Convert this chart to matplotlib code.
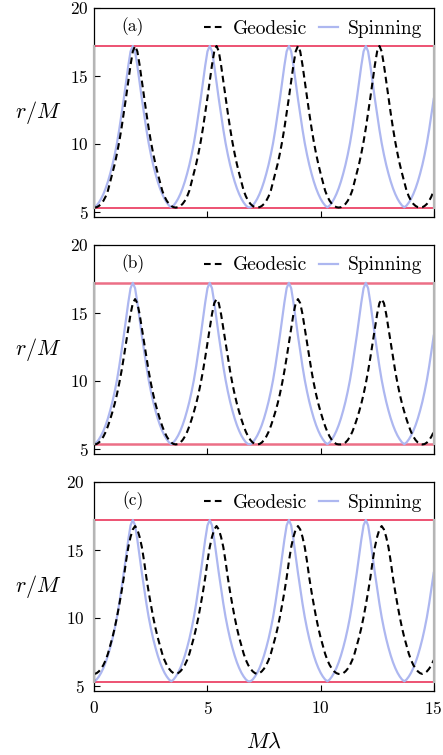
import numpy as np
import matplotlib
matplotlib.use("Agg")
import matplotlib.pyplot as plt

plt.rcParams['font.family'] = ['cmr10', 'DejaVu Serif']
plt.rcParams['mathtext.fontset'] = 'cm'
plt.rcParams['axes.formatter.use_mathtext'] = True

# M*lambda sampled every 0.1
lam = np.linspace(0, 15, 151)

# r/M
r_spin = [5.32, 5.45, 5.67, 5.95, 6.3, 6.72, 7.22, 7.8, 8.45, 9.2, 10.05, 11.05, 12.15, 13.3, 14.5, 15.75, 16.8, 17.2,
          16.8, 15.75, 14.5, 13.3, 12.15, 11.05, 10.05, 9.2, 8.45, 7.8, 7.22, 6.72, 6.3, 5.95, 5.67, 5.45, 5.32,
          5.45, 5.67, 5.95, 6.3, 6.72, 7.22, 7.8, 8.45, 9.2, 10.05, 11.05, 12.15, 13.3, 14.5, 15.75, 16.8, 17.2,
          16.8, 15.75, 14.5, 13.3, 12.15, 11.05, 10.05, 9.2, 8.45, 7.8, 7.22, 6.72, 6.3, 5.95, 5.67, 5.45, 5.32,
          5.32, 5.45, 5.67, 5.95, 6.3, 6.72, 7.22, 7.8, 8.45, 9.2, 10.05, 11.05, 12.15, 13.3, 14.5, 15.75, 16.8, 17.2,
          16.8, 15.75, 14.5, 13.3, 12.15, 11.05, 10.05, 9.2, 8.45, 7.8, 7.22, 6.72, 6.3, 5.95, 5.67, 5.45, 5.32,
          5.45, 5.67, 5.95, 6.3, 6.72, 7.22, 7.8, 8.45, 9.2, 10.05, 11.05, 12.15, 13.3, 14.5, 15.75, 16.8, 17.2,
          16.8, 15.75, 14.5, 13.3, 12.15, 11.05, 10.05, 9.2, 8.45, 7.8, 7.22, 6.72, 6.3, 5.95, 5.67, 5.45, 5.32,
          5.45, 5.67, 5.95, 6.3, 6.72, 7.22, 7.8, 8.45, 9.2, 10.05, 11.05, 12.15, 13.3]

r_geo_a = [5.3, 5.33, 5.42, 5.57, 5.8, 6.12, 6.55, 7.2, 7.82, 8.5, 9.28, 10.15, 11.15, 12.25, 13.4, 14.6, 15.8, 16.8, 17.2,
           16.8, 15.8, 14.6, 13.4, 12.25, 11.15, 10.15, 9.28, 8.5, 7.82, 7.2, 6.55, 6.12, 5.8, 5.57, 5.42, 5.33, 5.3,
           5.33, 5.42, 5.57, 5.8, 6.12, 6.55, 7.2, 7.82, 8.5, 9.28, 10.15, 11.15, 12.25, 13.4, 14.6, 15.8, 16.8, 17.2,
           16.8, 15.8, 14.6, 13.4, 12.25, 11.15, 10.15, 9.28, 8.5, 7.82, 7.2, 6.55, 6.12, 5.8, 5.57, 5.42, 5.33, 5.3,
           5.33, 5.42, 5.57, 5.8, 6.12, 6.55, 7.2, 7.82, 8.5, 9.28, 10.15, 11.15, 12.25, 13.4, 14.6, 15.8, 16.8, 17.2,
           16.8, 15.8, 14.6, 13.4, 12.25, 11.15, 10.15, 9.28, 8.5, 7.82, 7.2, 6.55, 6.12, 5.8, 5.57, 5.42, 5.33, 5.3,
           5.33, 5.42, 5.57, 5.8, 6.12, 6.55, 7.2, 7.82, 8.5, 9.28, 10.15, 11.15, 12.25, 13.4, 14.6, 15.8, 16.8, 17.2,
           16.8, 15.8, 14.6, 13.4, 12.25, 11.15, 10.15, 9.28, 8.5, 7.82, 7.2, 6.55, 6.12, 5.8, 5.57, 5.42, 5.33, 5.3,
           5.33, 5.42, 5.57, 5.8, 6.12, 6.55]

r_geo_b = [5.3, 5.33, 5.44, 5.62, 5.88, 6.22, 6.65, 7.15, 7.7, 8.3, 9.0, 9.8, 10.7, 11.7, 12.75, 13.85, 14.9, 15.7, 16.0,
           15.7, 14.9, 13.85, 12.75, 11.7, 10.7, 9.8, 9.0, 8.3, 7.7, 7.15, 6.65, 6.22, 5.88, 5.62, 5.44, 5.33, 5.3,
           5.33, 5.44, 5.62, 5.88, 6.22, 6.65, 7.15, 7.7, 8.3, 9.0, 9.8, 10.7, 11.7, 12.75, 13.85, 14.9, 15.7, 16.0,
           15.7, 14.9, 13.85, 12.75, 11.7, 10.7, 9.8, 9.0, 8.3, 7.7, 7.15, 6.65, 6.22, 5.88, 5.62, 5.44, 5.33, 5.3,
           5.33, 5.44, 5.62, 5.88, 6.22, 6.65, 7.15, 7.7, 8.3, 9.0, 9.8, 10.7, 11.7, 12.75, 13.85, 14.9, 15.7, 16.0,
           15.7, 14.9, 13.85, 12.75, 11.7, 10.7, 9.8, 9.0, 8.3, 7.7, 7.15, 6.65, 6.22, 5.88, 5.62, 5.44, 5.33, 5.3,
           5.3, 5.33, 5.44, 5.62, 5.88, 6.22, 6.65, 7.15, 7.7, 8.3, 9.0, 9.8, 10.7, 11.7, 12.75, 13.85, 14.9, 15.7, 16.0,
           15.7, 14.9, 13.85, 12.75, 11.7, 10.7, 9.8, 9.0, 8.3, 7.7, 7.15, 6.65, 6.22, 5.88, 5.62, 5.44, 5.33, 5.3,
           5.33, 5.44, 5.62, 5.88, 6.22]

r_geo_c = [5.86, 5.92, 6.05, 6.25, 6.52, 6.88, 7.35, 7.95, 8.55, 9.25, 10.05, 10.95, 11.9, 12.95, 14.15, 15.2, 15.95, 16.5, 16.75,
           16.5, 15.95, 15.2, 14.15, 12.95, 11.9, 10.95, 10.05, 9.25, 8.55, 7.95, 7.35, 6.88, 6.52, 6.25, 6.05, 5.92, 5.86,
           5.92, 6.05, 6.25, 6.52, 6.88, 7.35, 7.95, 8.55, 9.25, 10.05, 10.95, 11.9, 12.95, 14.15, 15.2, 15.95, 16.5, 16.75,
           16.5, 15.95, 15.2, 14.15, 12.95, 11.9, 10.95, 10.05, 9.25, 8.55, 7.95, 7.35, 6.88, 6.52, 6.25, 6.05, 5.92, 5.86,
           5.92, 6.05, 6.25, 6.52, 6.88, 7.35, 7.95, 8.55, 9.25, 10.05, 10.95, 11.9, 12.95, 14.15, 15.2, 15.95, 16.5, 16.75,
           16.5, 15.95, 15.2, 14.15, 12.95, 11.9, 10.95, 10.05, 9.25, 8.55, 7.95, 7.35, 6.88, 6.52, 6.25, 6.05, 5.92, 5.86,
           5.86, 5.92, 6.05, 6.25, 6.52, 6.88, 7.35, 7.95, 8.55, 9.25, 10.05, 10.95, 11.9, 12.95, 14.15, 15.2, 15.95, 16.5, 16.75,
           16.5, 15.95, 15.2, 14.15, 12.95, 11.9, 10.95, 10.05, 9.25, 8.55, 7.95, 7.35, 6.88, 6.52, 6.25, 6.05, 5.92, 5.86,
           5.92, 6.05, 6.25, 6.52, 6.88]

# turning points (periastron / apastron)
r_peri = 5.3
r_apo = 17.2

panel_labels = ["(a)", "(b)", "(c)"]
geodesics = [r_geo_a, r_geo_b, r_geo_c]

fig = plt.figure(figsize=(4.43, 7.55), dpi=100)
left, width, height = 0.213, 0.766, 0.2765
bottoms = [0.713, 0.3993, 0.0852]

axes = []
for i in range(3):
    ax = fig.add_axes([left, bottoms[i], width, height])
    axes.append(ax)

    if i == 1:
        red, red_lw = '#ec6f86', 1.8
    else:
        red, red_lw = '#e8234b', 1.1
    ax.axhline(r_apo, color=red, lw=red_lw, zorder=1)
    ax.axhline(r_peri, color=red, lw=red_lw, zorder=1)

    ax.plot(lam, r_spin, color='#adb7f0', lw=1.6, label='Spinning', zorder=2)
    ax.plot(lam, geodesics[i], color='black', lw=1.5, ls=(0, (3.2, 2.0)),
            label='Geodesic', zorder=3)

    for xe in (0, 15):
        ax.plot([xe, xe], [r_peri, r_apo], color='#b5b5b5', lw=1.6,
                clip_on=False, zorder=4)

    ax.set_xlim(0, 15)
    ax.set_ylim(4.63, 20)
    ax.set_yticks([5, 10, 15, 20])
    ax.set_xticks([0, 5, 10, 15])
    ax.tick_params(direction='in', length=4, width=0.8, labelsize=12.5,
                   top=False, right=False, pad=4)
    if i < 2:
        ax.tick_params(labelbottom=False)
    for s in ax.spines.values():
        s.set_linewidth(0.9)

    ax.text(1.7, 18.6, panel_labels[i], fontsize=12.5, ha='center', va='center')

    handles, labels = ax.get_legend_handles_labels()
    ax.legend(handles[::-1], labels[::-1], loc='upper right', ncol=2,
              frameon=False, fontsize=14, handlelength=1.0,
              handletextpad=0.5, columnspacing=0.6, borderaxespad=0.3,
              borderpad=0.3)

    ax.set_ylabel(r'$r/M$', fontsize=16, rotation=0, ha='center', va='center')
    ax.yaxis.set_label_coords(-0.166, 0.5)

axes[2].tick_params(pad=7)
axes[2].set_xlabel(r'$M\lambda$', fontsize=16, va='center')
axes[2].xaxis.set_label_coords(0.5, -0.245)

fig.savefig('out.png', dpi=100)
